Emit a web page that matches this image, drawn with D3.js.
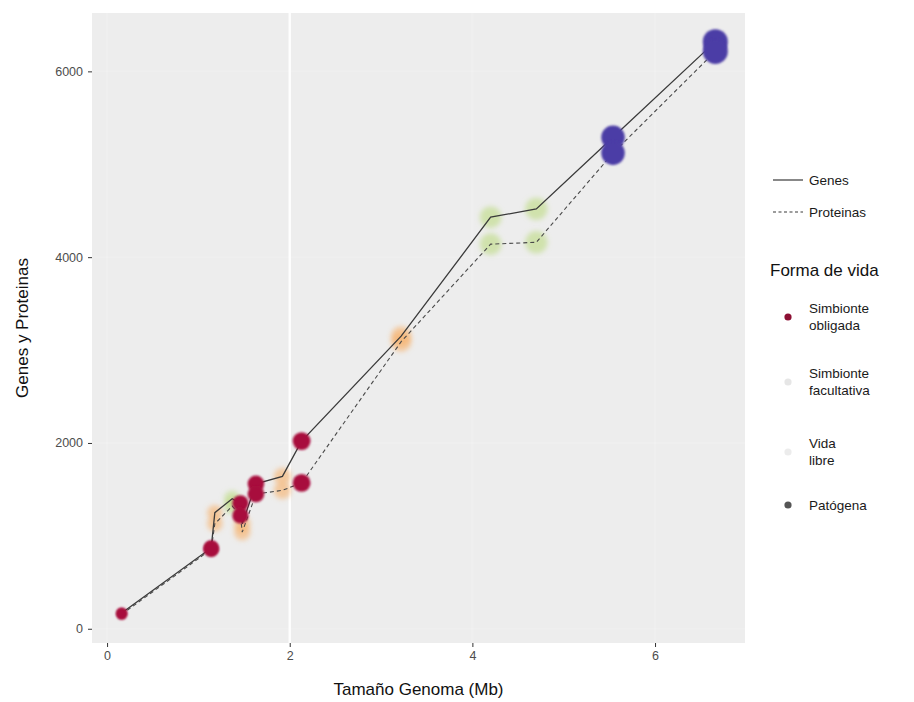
<!DOCTYPE html>
<html>
<head>
<meta charset="utf-8">
<script src="https://cdn.jsdelivr.net/npm/d3@7"></script>
<style>
  html, body { margin: 0; padding: 0; background: #ffffff; }
  svg { display: block; font-family: "Liberation Sans", Arial, Helvetica, sans-serif; }
</style>
</head>
<body>
<svg id="chart" width="914" height="702"></svg>
<script>
// Genome size (Mb), gene count, protein count and lifestyle for each organism
const genomeSize = [0.16, 1.14, 1.18, 1.37, 1.46, 1.48, 1.63, 1.92, 2.13, 3.22, 4.20, 4.70, 5.54, 6.66];
const genes      = [170, 870, 1250, 1400, 1350, 1130, 1560, 1640, 2020, 3150, 4430, 4520, 5290, 6320];
const proteins   = [155, 855, 1130, 1320, 1220, 1040, 1450, 1490, 1570, 3090, 4140, 4160, 5120, 6215];
const lifestyle  = ["Simbionte obligada", "Simbionte obligada", "Simbionte facultativa", "Vida libre",
                    "Simbionte obligada", "Simbionte facultativa", "Simbionte obligada", "Simbionte facultativa",
                    "Simbionte obligada", "Simbionte facultativa", "Vida libre", "Vida libre",
                    "Patógena", "Patógena"];

// Legend entries
const lifestyleLevels = ["Simbionte obligada", "Simbionte facultativa", "Vida libre", "Patógena"];
const lifestyleLabels = [["Simbionte", "obligada"], ["Simbionte", "facultativa"], ["Vida", "libre"], ["Patógena"]];
const seriesNames = ["Genes", "Proteinas"];

// Axis ticks
const xTicks = [0, 2, 4, 6];
const yTicks = [0, 2000, 4000, 6000];

const rows = genomeSize.map((s, i) => ({ size: s, genes: genes[i], proteins: proteins[i], forma: lifestyle[i] }));

const svg = d3.select("#chart");
const panel = { left: 92, right: 745, top: 13, bottom: 643 };

// ggplot-style 5% expansion of the data range
function expand(ext) { const pad = (ext[1] - ext[0]) * 0.05; return [ext[0] - pad, ext[1] + pad]; }
const allCounts = genes.concat(proteins);

const x = d3.scaleLinear().domain(expand(d3.extent(genomeSize))).range([panel.left, panel.right]);
const y = d3.scaleLinear().domain(expand(d3.extent(allCounts))).range([panel.bottom, panel.top]);
const r = d3.scalePow().exponent(0.5).domain(d3.extent(genomeSize)).range([5.5, 12.5]);

const fillColor = d3.scaleOrdinal().domain(lifestyleLevels)
  .range(["#a8103c", "#f6b06a", "#b8d878", "#4b3ca6"]);
const fillOpacity = d3.scaleOrdinal().domain(lifestyleLevels).range([1, 0.6, 0.55, 1]);
const legendKeyColor = d3.scaleOrdinal().domain(lifestyleLevels)
  .range(["#8c0f33", "#e6e6e6", "#ececec", "#555555"]);

// soft blur used by the points
const defs = svg.append("defs");
defs.append("filter").attr("id", "soft").attr("x", "-50%").attr("y", "-50%").attr("width", "200%").attr("height", "200%")
  .append("feGaussianBlur").attr("stdDeviation", 2.5);
defs.append("filter").attr("id", "softer").attr("x", "-50%").attr("y", "-50%").attr("width", "200%").attr("height", "200%")
  .append("feGaussianBlur").attr("stdDeviation", 0.8);

// panel background
svg.append("rect")
  .attr("x", panel.left).attr("y", panel.top)
  .attr("width", panel.right - panel.left).attr("height", panel.bottom - panel.top)
  .attr("fill", "#ededed");

// grid lines
const grid = svg.append("g");
grid.selectAll("line.gy").data(yTicks).join("line")
  .attr("x1", panel.left).attr("x2", panel.right)
  .attr("y1", d => y(d)).attr("y2", d => y(d))
  .attr("stroke", "#ffffff").attr("stroke-opacity", 0.15).attr("stroke-width", 1.5);
grid.selectAll("line.gx").data(xTicks).join("line")
  .attr("y1", panel.top).attr("y2", panel.bottom)
  .attr("x1", d => x(d)).attr("x2", d => x(d))
  .attr("stroke", "#ffffff").attr("stroke-opacity", d => d === 2 ? 0.9 : 0.15).attr("stroke-width", 2.5);

// lines for genes and proteins
const lineGenes = d3.line().x(d => x(d.size)).y(d => y(d.genes));
const lineProt = d3.line().x(d => x(d.size)).y(d => y(d.proteins));

// translucent points (behind the lines)
const soft = rows.filter(d => fillOpacity(d.forma) < 1);
const solid = rows.filter(d => fillOpacity(d.forma) === 1);

const softG = svg.append("g");
["genes", "proteins"].forEach(k => {
  softG.append("g").selectAll("circle").data(soft).join("circle")
    .attr("cx", d => x(d.size)).attr("cy", d => y(d[k]))
    .attr("r", d => r(d.size))
    .attr("fill", d => fillColor(d.forma))
    .attr("fill-opacity", d => fillOpacity(d.forma))
    .attr("filter", "url(#soft)");
});

svg.append("path").datum(rows).attr("d", lineGenes)
  .attr("fill", "none").attr("stroke", "#3a3a3a").attr("stroke-width", 1.3);
svg.append("path").datum(rows).attr("d", lineProt)
  .attr("fill", "none").attr("stroke", "#4a4a4a").attr("stroke-width", 1.1)
  .attr("stroke-dasharray", "4,3");

// opaque points on top
const solidG = svg.append("g");
["genes", "proteins"].forEach(k => {
  solidG.append("g").selectAll("circle").data(solid).join("circle")
    .attr("cx", d => x(d.size)).attr("cy", d => y(d[k]))
    .attr("r", d => r(d.size))
    .attr("fill", d => fillColor(d.forma))
    .attr("filter", "url(#softer)");
});

// axes
const axisColor = "#4d4d4d";
const xAxis = svg.append("g").attr("transform", `translate(0,${panel.bottom})`)
  .call(d3.axisBottom(x).tickValues(xTicks).tickSize(4).tickPadding(4).tickFormat(d3.format("d")));
const yAxis = svg.append("g").attr("transform", `translate(${panel.left},0)`)
  .call(d3.axisLeft(y).tickValues(yTicks).tickSize(4).tickPadding(5).tickFormat(d3.format("d")));
[xAxis, yAxis].forEach(a => {
  a.select(".domain").remove();
  a.selectAll(".tick line").attr("stroke", "#333333").attr("stroke-width", 1);
  a.selectAll(".tick text").attr("fill", axisColor).attr("font-size", 12.5)
    .attr("font-family", "'Liberation Sans', Arial, sans-serif");
});

// axis titles
svg.append("text").attr("x", (panel.left + panel.right) / 2).attr("y", 695)
  .attr("text-anchor", "middle").attr("font-size", 17).attr("fill", "#111")
  .text("Tamaño Genoma (Mb)");
svg.append("text").attr("transform", `translate(28,${(panel.top + panel.bottom) / 2}) rotate(-90)`)
  .attr("text-anchor", "middle").attr("font-size", 17).attr("fill", "#111")
  .text("Genes y Proteinas");

// legend: line types
const legend = svg.append("g");
const lineKeys = legend.selectAll("g.lk").data(seriesNames).join("g")
  .attr("transform", (d, i) => `translate(773,${180 + i * 32})`);
lineKeys.append("line").attr("x1", 0).attr("x2", 30).attr("y1", 0).attr("y2", 0)
  .attr("stroke", "#3a3a3a").attr("stroke-width", 1.2)
  .attr("stroke-dasharray", (d, i) => i === 1 ? "3,2.5" : null);
lineKeys.append("text").attr("x", 36).attr("y", 0).attr("dy", "0.35em")
  .attr("font-size", 13.5).attr("fill", "#1a1a1a").text(d => d);

// legend: lifestyle
legend.append("text").attr("x", 770).attr("y", 270).attr("dy", "0.35em")
  .attr("font-size", 17).attr("fill", "#111").text("Forma de vida");
const keyY = [317, 382, 452, 505];
const lifeKeys = legend.selectAll("g.fk").data(lifestyleLevels).join("g")
  .attr("transform", (d, i) => `translate(788,${keyY[i]})`);
lifeKeys.append("circle").attr("r", 3.6).attr("fill", d => legendKeyColor(d));
lifeKeys.append("text").attr("x", 21).attr("font-size", 13.5).attr("fill", "#1a1a1a")
  .each(function(d, i) {
    const lines = lifestyleLabels[i];
    const t = d3.select(this);
    lines.forEach((ln, j) => {
      t.append("tspan").attr("x", 21)
        .attr("y", (j - (lines.length - 1) / 2) * 17)
        .attr("dy", "0.35em").text(ln);
    });
  });
</script>
</body>
</html>
